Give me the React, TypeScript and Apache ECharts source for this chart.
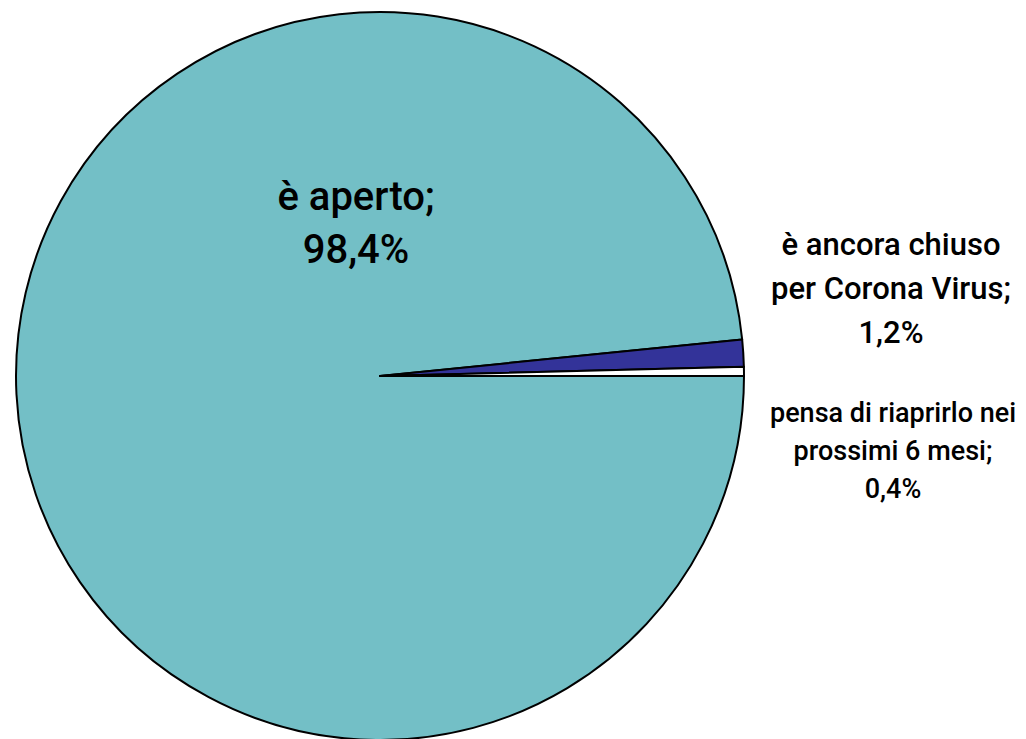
import React, { useEffect, useRef } from "react";
import * as echarts from "echarts";

const categories = [
  "è aperto;",
  "è ancora chiuso\nper Corona Virus;",
  "pensa di riaprirlo nei\nprossimi 6 mesi;",
];
const values = [98.4, 1.2, 0.4];
const valueLabels = ["98,4%", "1,2%", "0,4%"];
const colors = ["#73BFC6", "#333399", "#FFFFFF"];

const FONT = "Roboto, 'DejaVu Sans Condensed', sans-serif";

export default function App() {
  const ref = useRef<HTMLDivElement>(null);
  useEffect(() => {
    if (!ref.current) return;
    const chart = echarts.init(ref.current, undefined, { renderer: "svg" });
    const labelPos = [
      { x: 356, y: 223, size: 40, lh: 53 },
      { x: 891, y: 288, size: 31, lh: 44 },
      { x: 893, y: 451, size: 27, lh: 38 },
    ];
    chart.setOption({
      animation: false,
      backgroundColor: "#FFFFFF",
      series: [
        {
          type: "pie",
          center: [380, 376],
          radius: [0, 364],
          startAngle: 0,
          clockwise: true,
          label: { show: false },
          labelLine: { show: false },
          emphasis: { disabled: true },
          itemStyle: { borderColor: "#000000", borderWidth: 2 },
          data: categories.map((c, i) => ({
            name: c,
            value: values[i],
            itemStyle: { color: colors[i] },
          })),
        },
      ],
      graphic: categories.map((c, i) => ({
        type: "text",
        z: 100,
        x: labelPos[i].x,
        y: labelPos[i].y,
        style: {
          text: c + "\n" + valueLabels[i],
          fontFamily: FONT,
          fontWeight: 500,
          fontSize: labelPos[i].size,
          lineHeight: labelPos[i].lh,
          fill: "#000000",
          align: "center",
          verticalAlign: "middle",
        },
      })),
    });
    return () => chart.dispose();
  }, []);
  return (
    <div
      ref={ref}
      style={{ position: "fixed", left: 0, top: 0, width: 1026, height: 739 }}
    />
  );
}
